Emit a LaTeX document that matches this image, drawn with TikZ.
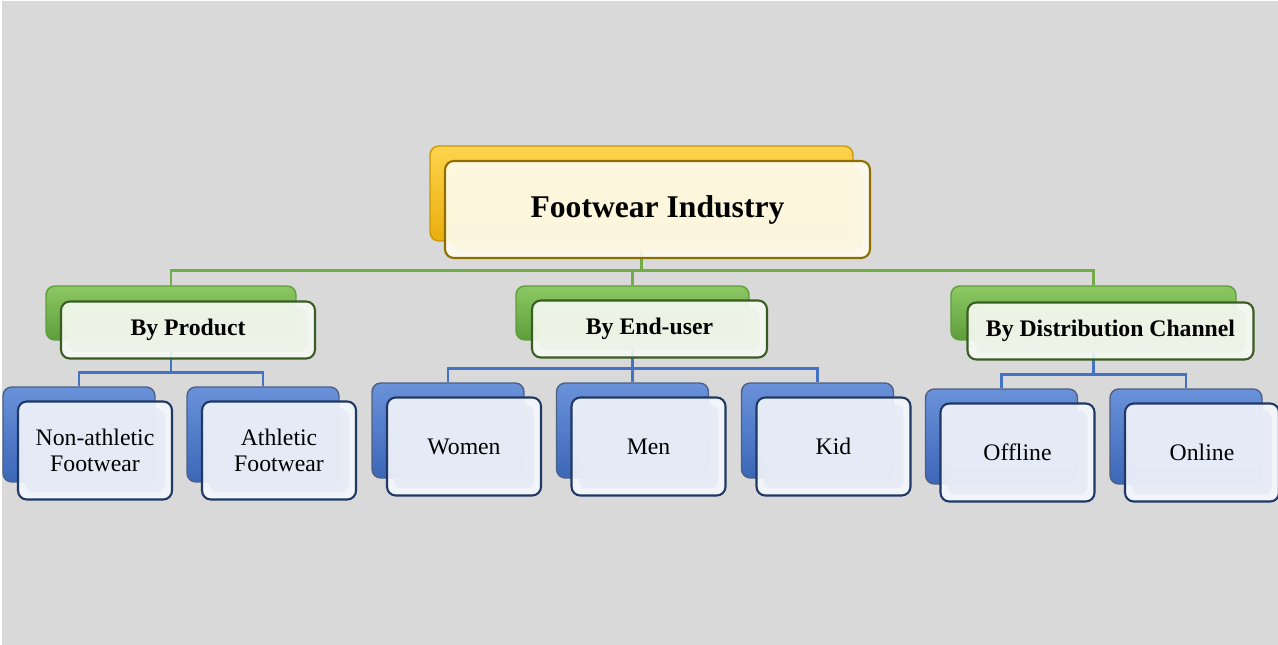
\documentclass[tikz,border=0pt]{standalone}
\usepackage{fontspec}
\setmainfont{Liberation Serif}
\usetikzlibrary{positioning}

\definecolor{bggray}{HTML}{D9D9D9}
\definecolor{goldtop}{HTML}{FFD34D}
\definecolor{goldbot}{HTML}{E8AE0C}
\definecolor{goldline}{HTML}{C9980A}
\definecolor{golddark}{HTML}{8F6E00}
\definecolor{goldpale}{HTML}{FFFDF0}
\definecolor{goldin}{HTML}{FCF6DE}
\definecolor{greentop}{HTML}{8CC864}
\definecolor{greenbot}{HTML}{5E9E3A}
\definecolor{greenline}{HTML}{70AD47}
\definecolor{greendark}{HTML}{385D22}
\definecolor{greenpale}{HTML}{F8FBF4}
\definecolor{greenin}{HTML}{EDF4E6}
\definecolor{bluetop}{HTML}{6A92DA}
\definecolor{bluebot}{HTML}{3C67B8}
\definecolor{blueline}{HTML}{4472C4}
\definecolor{bluedark}{HTML}{1F3864}
\definecolor{bluepale}{HTML}{F4F7FC}
\definecolor{bluein}{HTML}{E5EBF6}

\tikzset{
  bevel/.style={path picture={\fill[#1] ([shift={(4pt,4pt)}]path picture bounding box.south west) rectangle ([shift={(-4pt,-4pt)}]path picture bounding box.north east);}},
  backbox/.style={rounded corners=5pt, line width=0.8pt, inner sep=0pt},
  frontbox/.style={rounded corners=5pt, line width=1.2pt, inner sep=0pt, align=center, fill opacity=0.9, text opacity=1},
  goldbk/.style={backbox, draw=goldline, top color=goldtop, bottom color=goldbot, minimum width=8.46cm, minimum height=1.9cm},
  greenbk/.style={backbox, draw=greenbot, top color=greentop, bottom color=greenbot, minimum height=1.08cm},
  bluebk/.style={backbox, draw=bluedark!80, top color=bluetop, bottom color=bluebot, minimum width=3.04cm, minimum height=1.9cm},
  rootbox/.style={frontbox, draw=golddark, fill=goldpale, bevel=goldin, minimum width=8.5cm, minimum height=1.94cm, font=\fontsize{18}{21}\selectfont\bfseries},
  midbox/.style={frontbox, draw=greendark, fill=greenpale, bevel=greenin, minimum height=1.14cm, font=\fontsize{13.5}{16}\selectfont\bfseries},
  leafbox/.style={frontbox, draw=bluedark, fill=bluepale, bevel=bluein, minimum width=3.08cm, minimum height=1.96cm, font=\fontsize{13.5}{14.5}\selectfont},
  greenwire/.style={draw=greenline, line width=1.6pt},
  bluewire/.style={draw=blueline, line width=1.6pt}
}

\begin{document}
\begin{tikzpicture}[x=0.02cm, y=-0.02cm]
  \fill[white] (0,0) rectangle (1278,645);
  \fill[bggray] (2,1) rectangle (1278,645);
  \useasboundingbox (0,0) rectangle (1278,645);

  % back boxes
  \node[goldbk] (root-b) at (641.5,193.5) {};
  \node[greenbk, minimum width=5cm] (prod-b) at (171,313) {};
  \node[greenbk, minimum width=4.66cm] (user-b) at (632.5,313) {};
  \node[greenbk, minimum width=5.7cm] (chan-b) at (1093.5,313) {};
  \foreach \n/\x/\y in {nonath/79/434.5, ath/263/434.5, women/448/430.5, men/632.5/430.5,
                        kid/817.5/430.5, offline/1001.5/436.5, online/1186/436.5}
    \node[bluebk] (\n-b) at (\x,\y) {};

  % connectors
  \foreach \c in {prod,user,chan}
    \draw[greenwire] (root-b.south) |- ([yshift=0.3cm]\c-b.north) -- (\c-b.north);
  \foreach \p/\c in {prod/nonath, prod/ath, user/women, user/men, user/kid, chan/offline, chan/online}
    \draw[bluewire] (\p-b.south) |- ([yshift=0.28cm]\c-b.north) -- (\c-b.north);

  % front boxes
  \node[rootbox] (root) at ([shift={(16,16)}]root-b) {Footwear Industry};
  \node[midbox, minimum width=5.08cm] (prod) at ([shift={(17,17)}]prod-b) {By Product};
  \node[midbox, minimum width=4.7cm] (user) at ([shift={(17,16)}]user-b) {By End-user};
  \node[midbox, minimum width=5.72cm] (chan) at ([shift={(17,18)}]chan-b) {By Distribution Channel};
  \node[leafbox] (nonath) at ([shift={(16,16)}]nonath-b) {Non-athletic\\Footwear};
  \node[leafbox] (ath) at ([shift={(16,16)}]ath-b) {Athletic\\Footwear};
  \node[leafbox] (women) at ([shift={(16,16)}]women-b) {Women};
  \node[leafbox] (men) at ([shift={(16,16)}]men-b) {Men};
  \node[leafbox] (kid) at ([shift={(16,16)}]kid-b) {Kid};
  \node[leafbox] (offline) at ([shift={(16,16)}]offline-b) {Offline};
  \node[leafbox] (online) at ([shift={(16,16)}]online-b) {Online};
\end{tikzpicture}
\end{document}
